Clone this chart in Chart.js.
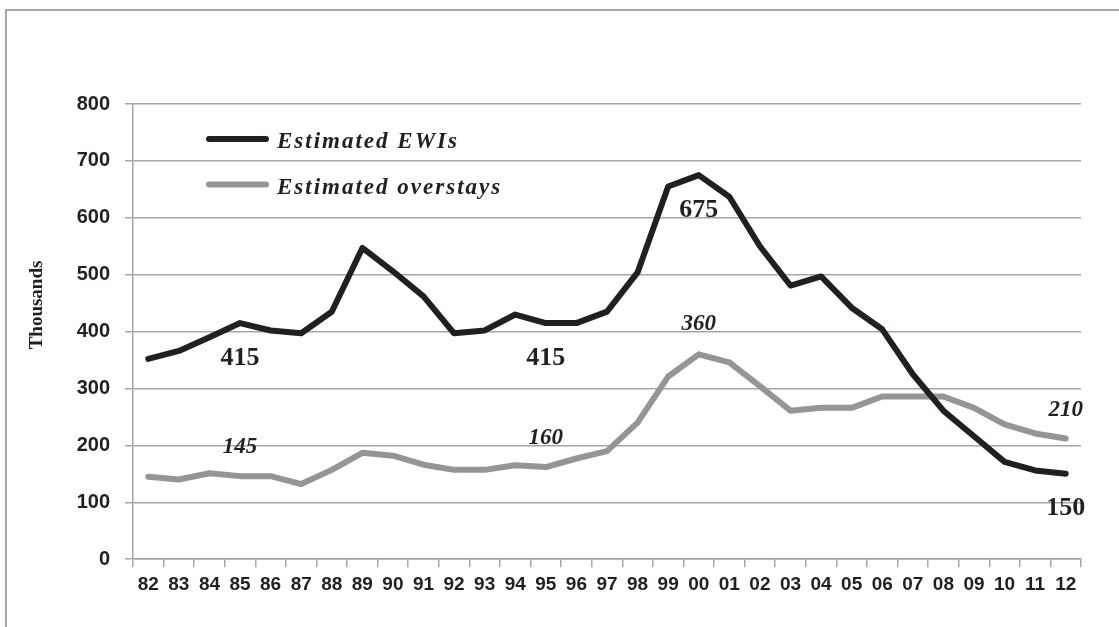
<!DOCTYPE html>
<html>
<head>
<meta charset="utf-8">
<script src="https://cdn.jsdelivr.net/npm/chart.js@4/dist/chart.umd.min.js"></script>
<style>
  html, body { margin: 0; padding: 0; background: #ffffff; }
  #wrap { position: relative; width: 1119px; height: 627px; overflow: hidden; }
  #frame { position: absolute; left: 5px; top: 9px; width: 1200px; height: 700px;
           border-left: 2px solid #a8a8a8; border-top: 2px solid #a8a8a8; }
  #c { position: absolute; left: 0; top: 0; }
</style>
</head>
<body>
<div id="wrap">
  <div id="frame"></div>
  <canvas id="c" width="1119" height="627"></canvas>
</div>
<script>
// ---- data ----
const years = ['82','83','84','85','86','87','88','89','90','91','92','93','94','95','96','97','98','99','00','01','02','03','04','05','06','07','08','09','10','11','12'];
const ewis = [352, 366, 390, 415, 402, 397, 435, 547, 506, 462, 397, 402, 430, 415, 415, 435, 504, 655, 675, 637, 550, 481, 497, 442, 404, 325, 261, 216, 171, 156, 150];
const overstays = [145, 140, 151, 146, 146, 132, 157, 187, 182, 166, 157, 157, 165, 162, 177, 190, 240, 321, 360, 346, 304, 261, 266, 266, 286, 286, 286, 266, 237, 221, 212];
const yTicks = [0, 100, 200, 300, 400, 500, 600, 700, 800];
const seriesNames = ['Estimated EWIs', 'Estimated overstays'];
const yTitle = 'Thousands';
const ewiNoteIdx = [3, 13, 18, 30];
const ewiNoteText = ['415', '415', '675', '150'];
const ovNoteIdx = [3, 13, 18, 30];
const ovNoteText = ['145', '160', '360', '210'];

const BLACK = '#231f20';
const GRAY = '#939598';
const GRID = '#a6a6a6';
const SERIF = '"Liberation Serif", "Times New Roman", serif';
const SANS = '"Liberation Sans", Arial, sans-serif';

const notesPlugin = {
  id: 'notes',
  afterDatasetsDraw(chart) {
    const ctx = chart.ctx;
    const xs = chart.scales.x, ys = chart.scales.y;
    ctx.save();
    ctx.fillStyle = BLACK;
    ctx.textAlign = 'center';
    ctx.textBaseline = 'alphabetic';
    ctx.font = 'bold 26px ' + SERIF;
    ewiNoteIdx.forEach((idx, k) => {
      const x = xs.getPixelForValue(idx);
      const y = ys.getPixelForValue(Number(ewiNoteText[k])) + 41.5;
      ctx.fillText(ewiNoteText[k], x, y);
    });
    ctx.font = 'italic bold 23px ' + SERIF;
    ovNoteIdx.forEach((idx, k) => {
      const x = xs.getPixelForValue(idx);
      const y = ys.getPixelForValue(Number(ovNoteText[k])) - 24;
      ctx.fillText(ovNoteText[k], x, y);
    });
    // y-axis title
    ctx.save();
    ctx.translate(42, 305);
    ctx.rotate(-Math.PI / 2);
    ctx.font = 'bold 19px ' + SERIF;
    ctx.textAlign = 'center';
    ctx.textBaseline = 'alphabetic';
    ctx.fillText(yTitle, 0, 0);
    ctx.restore();
    ctx.restore();
  }
};

const legendPlugin = {
  id: 'customLegend',
  afterDatasetsDraw(chart) {
    const ctx = chart.ctx;
    const items = chart.data.datasets;
    const rows = [139, 184.5];
    ctx.save();
    items.forEach((ds, i) => {
      const y = rows[i];
      ctx.strokeStyle = ds.borderColor;
      ctx.lineWidth = 6;
      ctx.lineCap = 'round';
      ctx.beginPath();
      ctx.moveTo(209, y);
      ctx.lineTo(266, y);
      ctx.stroke();
      ctx.fillStyle = BLACK;
      ctx.font = 'italic bold 23px ' + SERIF;
      ctx.textAlign = 'left';
      ctx.textBaseline = 'alphabetic';
      try { ctx.letterSpacing = '2px'; } catch (e) {}
      ctx.fillText(ds.label, 277, y + 9);
    });
    ctx.restore();
  }
};

new Chart(document.getElementById('c'), {
  type: 'line',
  data: {
    labels: years,
    datasets: [
      { label: seriesNames[0], data: ewis, borderColor: BLACK, backgroundColor: BLACK,
        borderWidth: 6, pointRadius: 0, tension: 0, borderCapStyle: 'round', borderJoinStyle: 'round' },
      { label: seriesNames[1], data: overstays, borderColor: GRAY, backgroundColor: GRAY,
        borderWidth: 6, pointRadius: 0, tension: 0, borderCapStyle: 'round', borderJoinStyle: 'round' }
    ]
  },
  options: {
    responsive: false,
    animation: false,
    devicePixelRatio: 1,
    layout: { padding: { left: 0, right: 38, top: 104, bottom: 25 } },
    plugins: { legend: { display: false }, tooltip: { enabled: false } },
    scales: {
      x: {
        offset: true,
        grid: { offset: true, drawOnChartArea: false, drawTicks: true, tickLength: 8, color: GRID, lineWidth: 1.5 },
        border: { color: GRID, width: 1.5 },
        ticks: { color: BLACK, font: { family: SANS, size: 19, weight: 'bold' }, padding: 6, maxRotation: 0, autoSkip: false }
      },
      y: {
        min: 0, max: 800,
        afterFit(scale) { scale.width = 133; },
        afterBuildTicks(scale) { scale.ticks = yTicks.map(v => ({ value: v })); },
        grid: { color: GRID, lineWidth: 1.5, drawTicks: true, tickLength: 8 },
        border: { color: GRID, width: 1.5 },
        ticks: { color: BLACK, font: { family: SANS, size: 20, weight: 'bold' }, padding: 15 }
      }
    }
  },
  plugins: [notesPlugin, legendPlugin]
});
</script>
</body>
</html>
